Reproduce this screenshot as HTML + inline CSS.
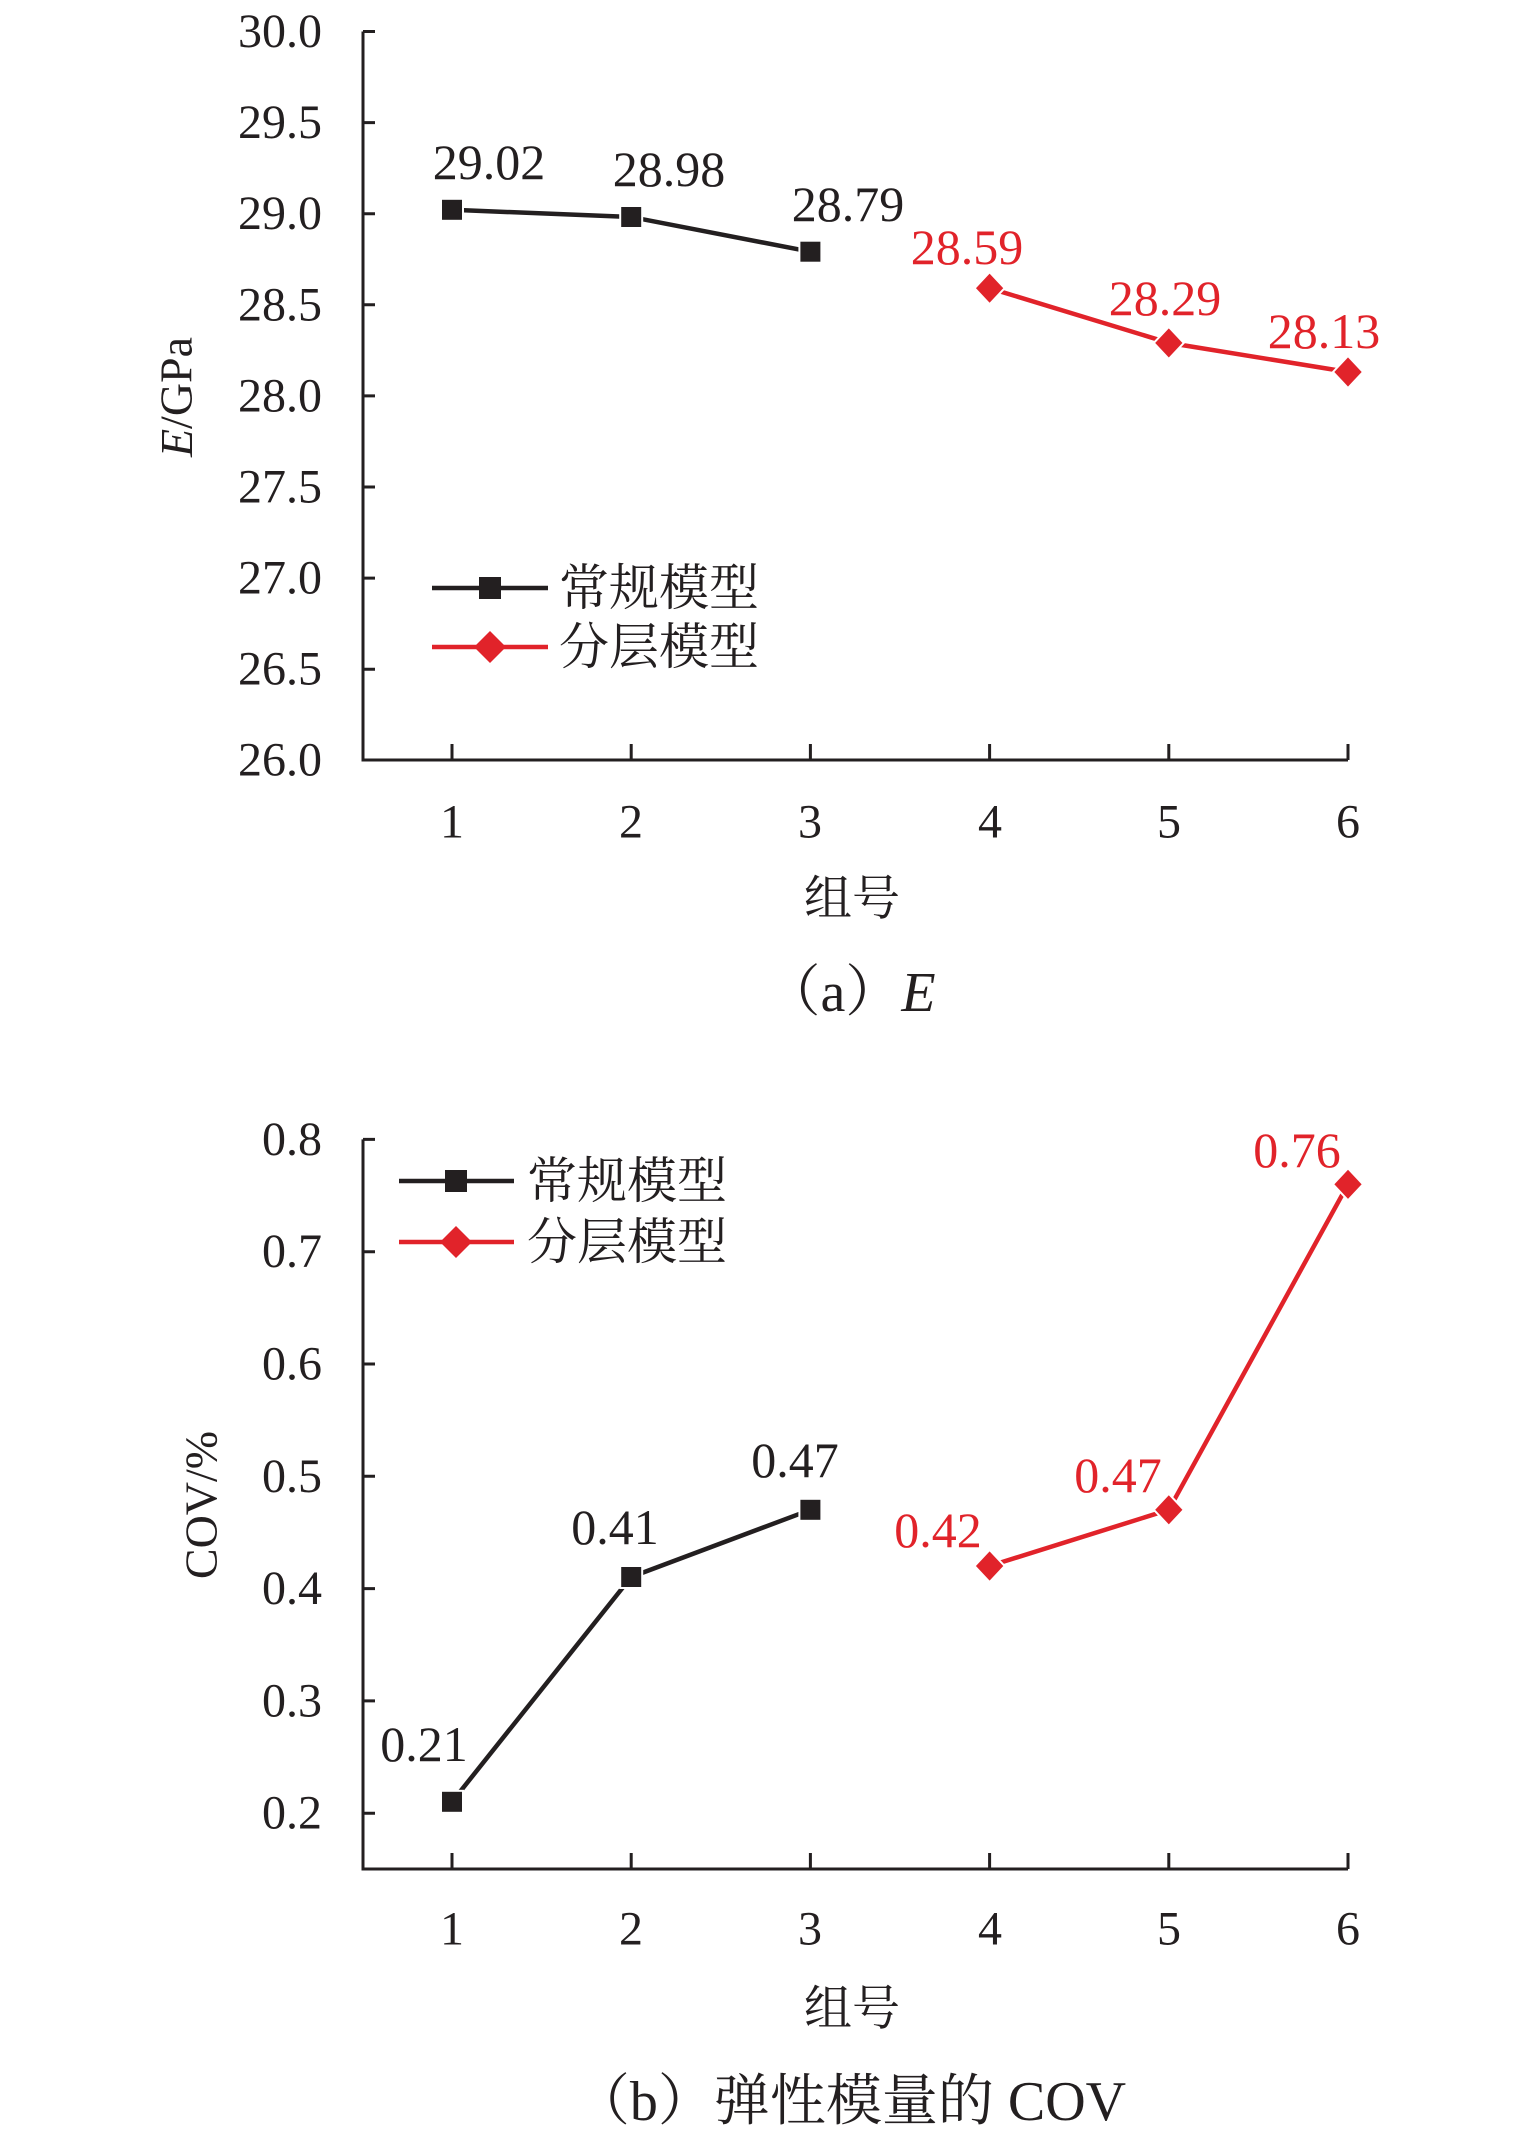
<!DOCTYPE html>
<html><head><meta charset="utf-8"><style>
html,body{margin:0;padding:0;background:#fff;}
svg{display:block;}
text{font-family:"Liberation Serif","Noto Serif CJK SC",serif;}
.cjk{font-family:"Liberation Serif","Noto Serif CJK SC","Noto Sans CJK SC",serif;}
</style></head><body>
<svg width="1535" height="2146" viewBox="0 0 1535 2146" xmlns="http://www.w3.org/2000/svg">
<g stroke="#231f20" stroke-width="3" fill="none">
<path d="M363 31.5 V760 H1348"/>
<path d="M363 31.5h12 M363 122.6h12 M363 213.7h12 M363 304.8h12 M363 395.9h12 M363 487h12 M363 578.1h12 M363 669.2h12"/>
<path d="M452 760v-16 M631.2 760v-16 M810.4 760v-16 M989.6 760v-16 M1168.8 760v-16 M1348 760v-16"/>
<path d="M363 1139.4 V1869 H1348"/>
<path d="M363 1139.4h12 M363 1251.7h12 M363 1364h12 M363 1476.3h12 M363 1588.6h12 M363 1700.9h12 M363 1813.2h12"/>
<path d="M452 1869v-16 M631.2 1869v-16 M810.4 1869v-16 M989.6 1869v-16 M1168.8 1869v-16 M1348 1869v-16"/>
</g>
<g font-size="48" fill="#231f20" text-anchor="end" dominant-baseline="central">
<text x="322" y="31.5">30.0</text><text x="322" y="122.6">29.5</text><text x="322" y="213.7">29.0</text><text x="322" y="304.8">28.5</text><text x="322" y="395.9">28.0</text><text x="322" y="487">27.5</text><text x="322" y="578.1">27.0</text><text x="322" y="669.2">26.5</text><text x="322" y="760">26.0</text>
<text x="322" y="1139.4">0.8</text><text x="322" y="1251.7">0.7</text><text x="322" y="1364">0.6</text><text x="322" y="1476.3">0.5</text><text x="322" y="1588.6">0.4</text><text x="322" y="1700.9">0.3</text><text x="322" y="1813.2">0.2</text>
</g>
<g font-size="48" fill="#231f20" text-anchor="middle" dominant-baseline="central">
<text x="452" y="822">1</text><text x="631" y="822">2</text><text x="810" y="822">3</text><text x="990" y="822">4</text><text x="1169" y="822">5</text><text x="1348" y="822">6</text>
<text x="452" y="1929">1</text><text x="631" y="1929">2</text><text x="810" y="1929">3</text><text x="990" y="1929">4</text><text x="1169" y="1929">5</text><text x="1348" y="1929">6</text>
<text class="cjk" x="852" y="899" font-size="48">组号</text>
<text class="cjk" x="852" y="2009" font-size="48">组号</text>
<text class="cjk" x="850" y="993" font-size="56">（a）<tspan font-style="italic">E</tspan></text>
<text class="cjk" x="850" y="2102" font-size="56">（b）弹性模量的 COV</text>
<text transform="translate(176 397) rotate(-90)" font-size="46"><tspan font-style="italic">E</tspan>/GPa</text>
<text transform="translate(201 1505) rotate(-90)" font-size="46">COV/%</text>
</g>
<polyline points="452,209.8 631.2,217 810.4,251.7" stroke="#231f20" stroke-width="4.5" fill="none"/>
<polyline points="989.6,288.2 1168.8,342.9 1348,372" stroke="#e1232a" stroke-width="4.5" fill="none"/>
<g fill="#231f20" stroke="#fff" stroke-width="2">
<rect x="441" y="198.8" width="22" height="22"/><rect x="620.2" y="206" width="22" height="22"/><rect x="799.4" y="240.7" width="22" height="22"/>
</g>
<g fill="#e1232a" stroke="#fff" stroke-width="2">
<path d="M989.6 272.2l15 16-15 16-15-16z"/><path d="M1168.8 326.9l15 16-15 16-15-16z"/><path d="M1348 356l15 16-15 16-15-16z"/>
</g>
<g font-size="50" text-anchor="middle">
<text x="489" y="179" fill="#231f20">29.02</text><text x="669" y="186" fill="#231f20">28.98</text><text x="848" y="221" fill="#231f20">28.79</text>
<text x="967" y="264" fill="#e1232a">28.59</text><text x="1165" y="315" fill="#e1232a">28.29</text><text x="1324" y="348" fill="#e1232a">28.13</text>
</g>
<line x1="432" y1="588" x2="548" y2="588" stroke="#231f20" stroke-width="4.5"/>
<rect x="479" y="577" width="22" height="22" fill="#231f20"/>
<line x1="432" y1="647" x2="548" y2="647" stroke="#e1232a" stroke-width="4.5"/>
<path d="M490 631l16 16-16 16-16-16z" fill="#e1232a"/>
<g class="cjk" font-size="50" fill="#231f20" dominant-baseline="central">
<text class="cjk" x="559" y="588">常规模型</text><text class="cjk" x="559" y="647">分层模型</text>
<text class="cjk" x="527" y="1181">常规模型</text><text class="cjk" x="527" y="1242">分层模型</text>
</g>
<polyline points="452,1801.8 631.2,1577 810.4,1509.8" stroke="#231f20" stroke-width="4.5" fill="none"/>
<polyline points="989.6,1566 1168.8,1509.8 1348,1184.3" stroke="#e1232a" stroke-width="4.5" fill="none"/>
<g fill="#231f20" stroke="#fff" stroke-width="2">
<rect x="441" y="1790.8" width="22" height="22"/><rect x="620.2" y="1566" width="22" height="22"/><rect x="799.4" y="1498.8" width="22" height="22"/>
</g>
<g fill="#e1232a" stroke="#fff" stroke-width="2">
<path d="M989.6 1550l15 16-15 16-15-16z"/><path d="M1168.8 1493.8l15 16-15 16-15-16z"/><path d="M1348 1168.3l15 16-15 16-15-16z"/>
</g>
<g font-size="50" text-anchor="middle">
<text x="424" y="1761" fill="#231f20">0.21</text><text x="615" y="1544" fill="#231f20">0.41</text><text x="795" y="1477" fill="#231f20">0.47</text>
<text x="938" y="1547" fill="#e1232a">0.42</text><text x="1118" y="1492" fill="#e1232a">0.47</text><text x="1297" y="1167" fill="#e1232a">0.76</text>
</g>
<line x1="399" y1="1181" x2="514" y2="1181" stroke="#231f20" stroke-width="4.5"/>
<rect x="445" y="1170" width="22" height="22" fill="#231f20"/>
<line x1="399" y1="1242" x2="514" y2="1242" stroke="#e1232a" stroke-width="4.5"/>
<path d="M456 1226l16 16-16 16-16-16z" fill="#e1232a"/>
</svg>
</body></html>
